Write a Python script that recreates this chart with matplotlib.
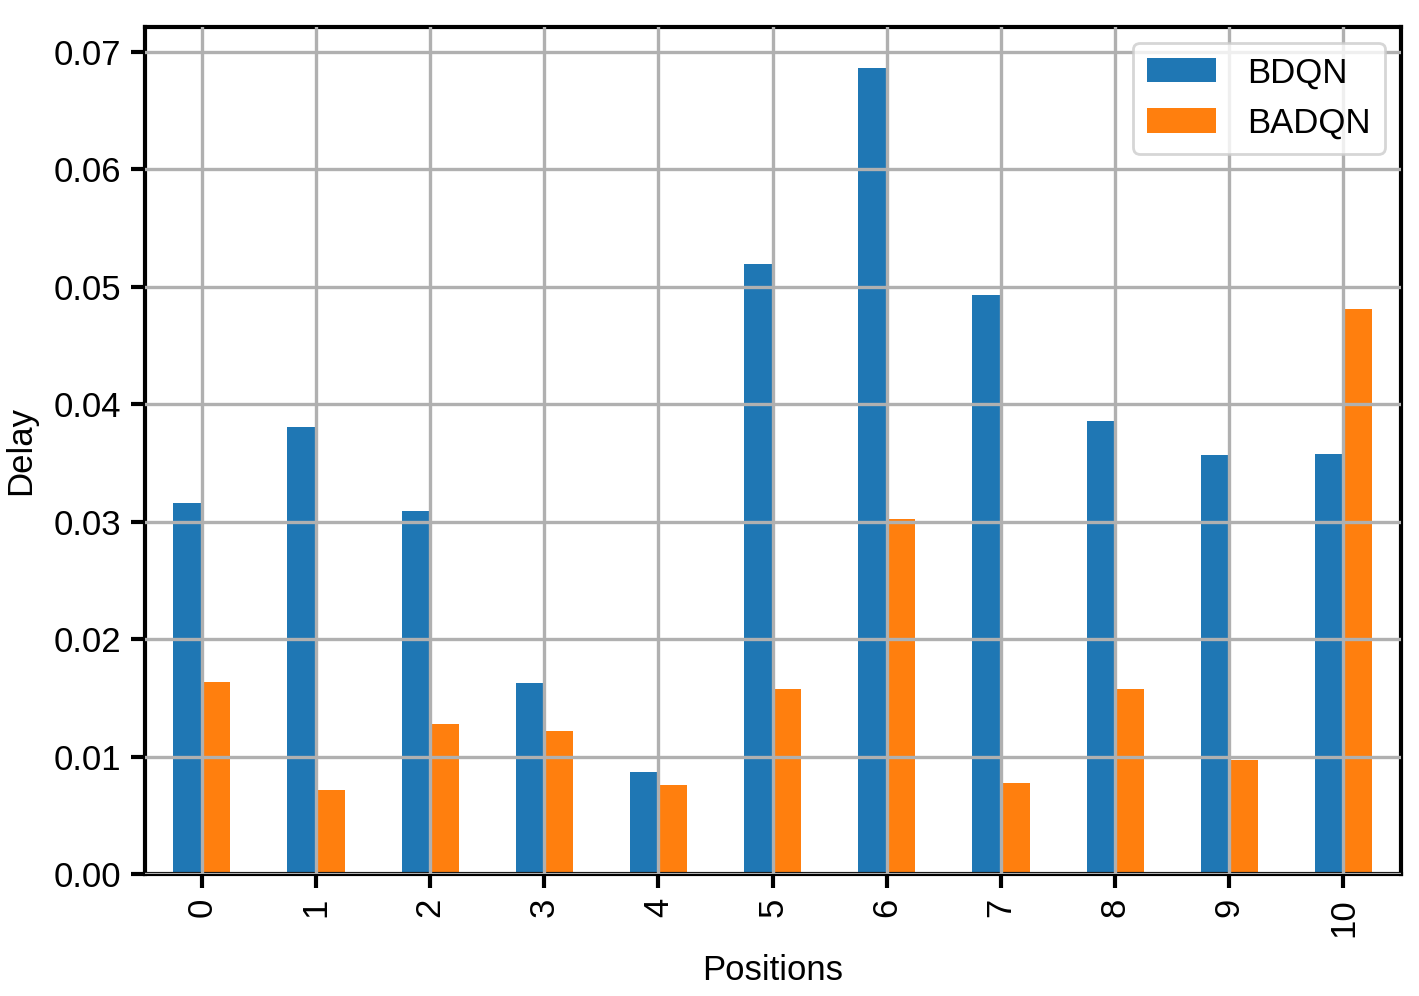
import numpy as np
import matplotlib
matplotlib.use('Agg')
import matplotlib.pyplot as plt

positions = [0, 1, 2, 3, 4, 5, 6, 7, 8, 9, 10]
bdqn = [0.0316, 0.0381, 0.0309, 0.0163, 0.0087, 0.0519, 0.0686, 0.0493, 0.0386, 0.0357, 0.0358]
badqn = [0.0164, 0.0072, 0.0128, 0.0122, 0.0076, 0.0158, 0.0302, 0.0078, 0.0158, 0.0097, 0.0481]

plt.rcParams['font.family'] = ['Liberation Sans', 'DejaVu Sans']
plt.rcParams['font.size'] = 12.5

fig, ax = plt.subplots(figsize=(7.095, 4.98), dpi=200)
x = np.arange(len(positions))
w = 0.25
ax.bar(x - w / 2, bdqn, width=w, color='#1f77b4', label='BDQN')
ax.bar(x + w / 2, badqn, width=w, color='#ff7f0e', label='BADQN')

ax.set_xlim(-0.5, len(positions) - 0.5)
ax.set_ylim(0, 0.0721)
ax.set_xticks(x)
ax.set_xticklabels([str(p) for p in positions], rotation=90)
ax.set_yticks(np.arange(0, 0.071, 0.01))
ax.yaxis.set_major_formatter(matplotlib.ticker.FormatStrFormatter('%.2f'))
ax.set_xlabel('Positions', labelpad=6)
ax.set_ylabel('Delay', labelpad=6)
ax.set_axisbelow(False)
ax.grid(True, color='#b0b0b0', linewidth=1.2)
for s in ax.spines.values():
    s.set_linewidth(1.5)
ax.tick_params(width=1.5, length=5, labelsize=12.5)
ax.legend(loc='upper right', fontsize=12.5, borderaxespad=0.45, handletextpad=0.9)

plt.subplots_adjust(left=0.102, right=0.987, top=0.973, bottom=0.122)
plt.savefig('out.png', dpi=200)
